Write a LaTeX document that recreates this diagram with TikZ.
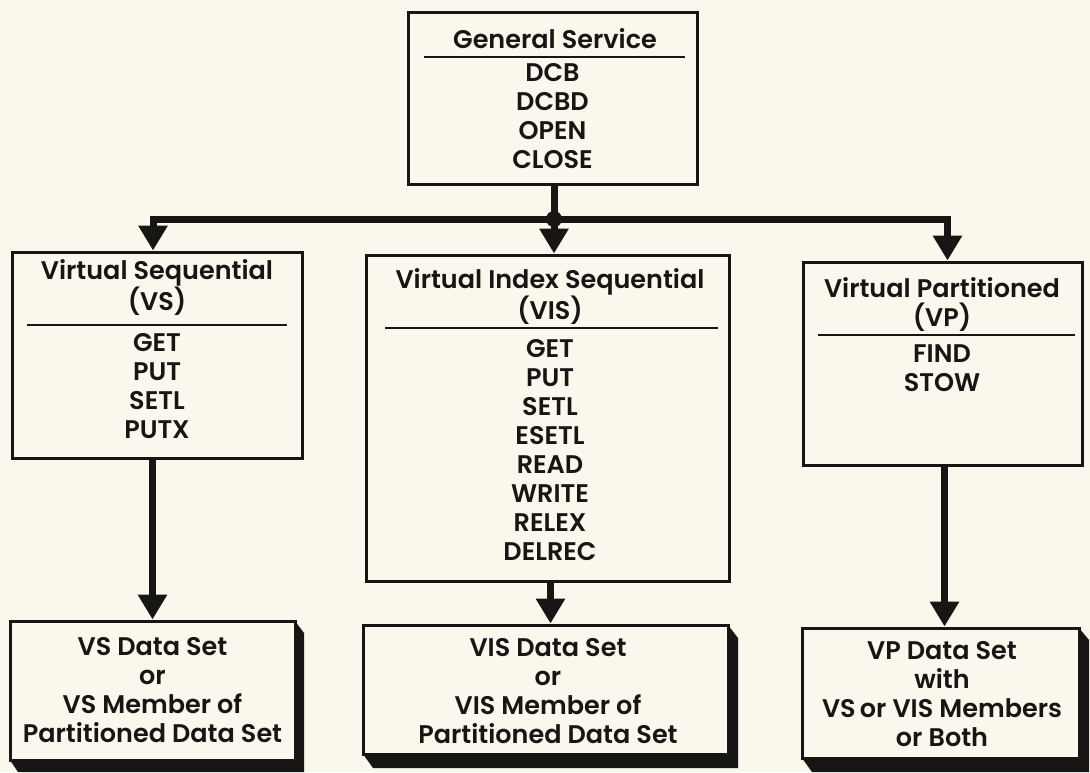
\documentclass[tikz,border=0pt]{standalone}
\usepackage{fontspec}
\setmainfont{Poppins}[UprightFont={* Medium}, BoldFont={* SemiBold}]
\usetikzlibrary{arrows.meta}
\definecolor{paper}{RGB}{250,247,236}
\definecolor{ink}{RGB}{24,22,20}
\begin{document}
\begin{tikzpicture}[x=1pt,y=-1pt,
  txt/.style={font=\bfseries\fontsize{25.5}{29}\selectfont, text=ink, align=center, inner sep=0pt},
  box/.style={draw=ink, line width=3pt, fill=paper, inner sep=0pt, rectangle},
  rule/.style={draw=ink, line width=1.6pt},
  conn/.style={draw=ink, line width=7pt, line join=miter, line cap=butt},
  tip/.style={-{Triangle[length=25pt,width=28pt]}},
  slab/.style={fill=ink},
  dot/.style={circle, fill=ink, minimum size=16pt, inner sep=0pt}
]
% page
\fill[paper] (0,0) rectangle (1090,772);
\useasboundingbox (0,0) rectangle (1090,772);

% ---------------- top box
\node[box, minimum width=289pt, minimum height=172pt] (gs) at (552.5,98) {};
\node[txt] (gsT) at (555,39) {General Service};
\draw[rule] ([xshift=17pt]gs.west |- 0,57) -- ([xshift=-14pt]gs.east |- 0,57);
\node[txt, anchor=north] (gsL) at (552.5,63) {DCB\\DCBD\\OPEN\\CLOSE};

% ---------------- access method boxes
\node[box, minimum width=290pt, minimum height=206pt] (vs) at (157,355) {};
\node[txt, anchor=north] (vsT) at (157,259) {Virtual Sequential\\(VS)};
\draw[rule] (27,325) -- (287,325);
\node[txt, anchor=north] (vsL) at (157,333) {GET\\PUT\\SETL\\PUTX};

\node[box, minimum width=363pt, minimum height=326pt] (vis) at (547.5,418) {};
\node[txt, anchor=north] (visT) at (550,268) {Virtual Index Sequential\\(VIS)};
\draw[rule] (385,328) -- (718,328);
\node[txt, anchor=north] (visL) at (550,339) {GET\\PUT\\SETL\\ESETL\\READ\\WRITE\\RELEX\\DELREC};

\node[box, minimum width=279pt, minimum height=203pt] (vp) at (942.5,363.5) {};
\node[txt, anchor=north] (vpT) at (942,277) {Virtual Partitioned\\(VP)};
\draw[rule] (818,335) -- (1075,335);
\node[txt, anchor=north] (vpL) at (942,344) {FIND\\STOW};

% ---------------- data set boxes (extruded slabs)
\fill[slab] (295,621) -- (304,633) -- (304,772) -- (18,772) -- (10,760) -- cycle;
\node[box, minimum width=285pt, minimum height=139pt] (vsds) at (152.5,690.5) {};
\node[txt] (vsdsT) at (152.5,690) {VS Data Set\\or\\VS Member of\\Partitioned Data Set};

\fill[slab] (728,625) -- (738,638) -- (738,768) -- (373,768) -- (363,754) -- cycle;
\node[box, minimum width=365pt, minimum height=129pt] (visds) at (545.5,689.5) {};
\node[txt] (visdsT) at (548,691) {VIS Data Set\\or\\VIS Member of\\Partitioned Data Set};

\fill[slab] (1079,628) -- (1089,640) -- (1089,772) -- (812,772) -- (802,758) -- cycle;
\node[box, minimum width=277pt, minimum height=130pt] (vpds) at (940.5,693) {};
\node[txt] (vpdsT) at (942,694) {VP Data Set\\with\\VS\,or VIS Members\\or Both};

% ---------------- connectors
\coordinate (jn) at (554,219);
\draw[conn] (jn |- gs.south) -- (jn);
\draw[conn, tip] (jn) -| ([xshift=-4pt]vs.north);
\draw[conn, tip] (jn) -- (jn |- vis.north);
\draw[conn, tip] (jn) -| ([xshift=5pt]vp.north);
\node[dot] (jdot) at (jn) {};

\draw[conn, tip] (vsds.north |- vs.south) -- (vsds.north);
\draw[conn, tip] ([xshift=5pt]visds.north |- vis.south) -- ([xshift=5pt]visds.north);
\draw[conn, tip] ([xshift=4pt]vpds.north |- vp.south) -- ([xshift=4pt]vpds.north);
\end{tikzpicture}
\end{document}
